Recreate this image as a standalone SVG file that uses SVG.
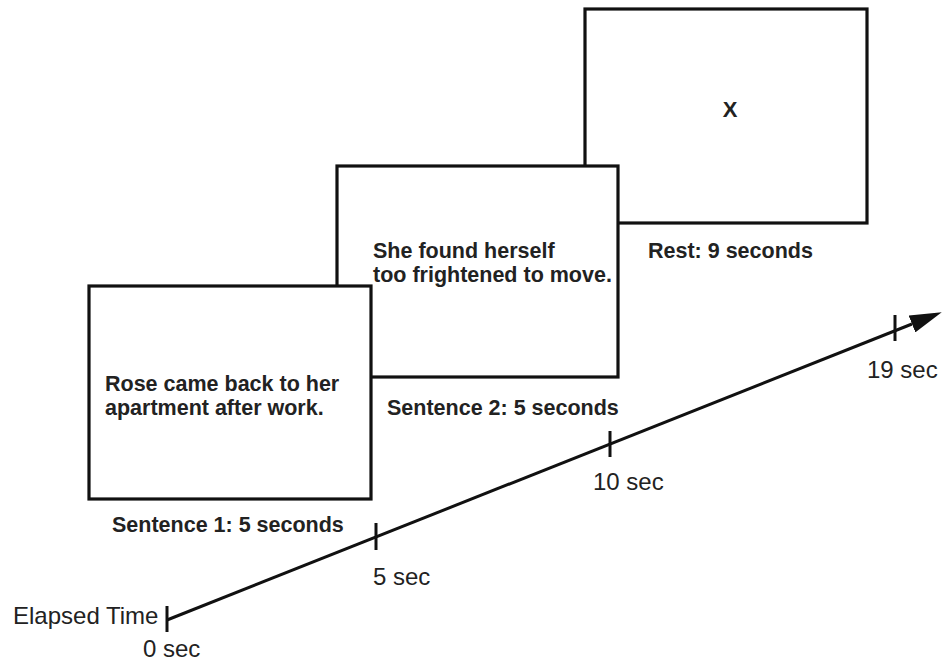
<svg xmlns="http://www.w3.org/2000/svg" width="944" height="666" viewBox="0 0 944 666">
<defs>
<style>
.box{fill:#fff;stroke:#111;stroke-width:3.2}
.bt{font-family:"Liberation Sans",Arial,sans-serif;font-weight:bold;font-size:21.5px;fill:#222}
.rt{font-family:"Liberation Sans",Arial,sans-serif;font-size:24px;fill:#222}
.axis{stroke:#111;stroke-width:3;fill:none}
</style>
<marker id="arrow" viewBox="0 0 32 18" refX="0" refY="9" markerWidth="32" markerHeight="18" markerUnits="userSpaceOnUse" orient="auto">
<path d="M0,0 L32,9 L0,18 z" fill="#111"/>
</marker>
</defs>
<rect width="944" height="666" fill="#fff"/>
<g id="rest">
<rect class="box" x="585" y="9" width="282" height="214"/>
<text class="bt" x="730" y="117" text-anchor="middle" style="font-size:22px">X</text>
<text class="bt" x="648" y="258">Rest: 9 seconds</text>
</g>
<g id="sentence2">
<rect class="box" x="337" y="166" width="281" height="211"/>
<text class="bt" x="373" y="258">She found herself</text>
<text class="bt" x="373" y="282">too frightened to move.</text>
<text class="bt" x="387" y="415">Sentence 2: 5 seconds</text>
</g>
<g id="sentence1">
<rect class="box" x="89" y="286" width="282" height="213"/>
<text class="bt" x="105" y="391">Rose came back to her</text>
<text class="bt" x="105" y="415">apartment after work.</text>
<text class="bt" x="112" y="532">Sentence 1: 5 seconds</text>
</g>
<g id="connectors">
<line class="axis" x1="167" y1="620" x2="912" y2="324" marker-end="url(#arrow)"/>
<line class="axis" x1="167" y1="606" x2="167" y2="632"/>
<line class="axis" x1="376" y1="523" x2="376" y2="550"/>
<line class="axis" x1="610" y1="431" x2="610" y2="457"/>
<line class="axis" x1="895" y1="315" x2="895" y2="341"/>
</g>
<g id="labels">
<text class="rt" x="13" y="624">Elapsed Time</text>
<text class="rt" x="143" y="657">0 sec</text>
<text class="rt" x="373" y="585">5 sec</text>
<text class="rt" x="593" y="490">10 sec</text>
<text class="rt" x="867" y="378">19 sec</text>
</g>
</svg>
